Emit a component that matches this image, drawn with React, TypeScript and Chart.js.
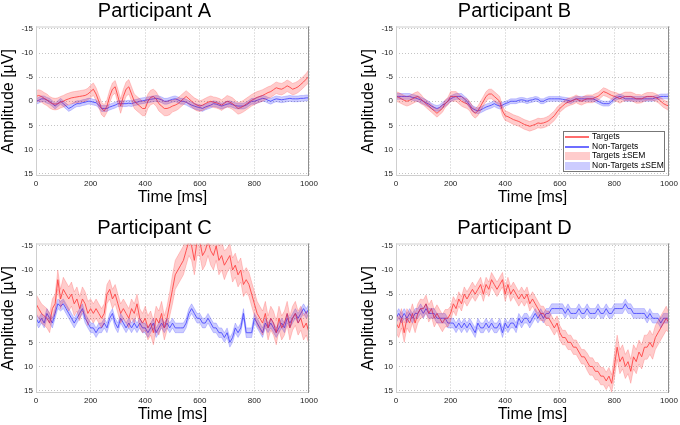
import { useEffect, useRef } from 'react';
import { Chart, registerables } from 'chart.js';

Chart.register(...registerables);

// sampling of every trace (ms per sample); sem arrays hold one value per 100 ms
const STEP_MS = 10;
const SEM_BIN_MS = 100;

const X_MIN = 0;
const X_MAX = 1000;
const X_STEP = 200;
const Y_MIN = -15.5;
const Y_MAX = 15.5;
const Y_STEP = 5;

const FONT = '"Liberation Sans", Arial, sans-serif';
const RED = 'rgb(255,85,85)';
const BLUE = 'rgb(95,95,255)';
const RED_FILL = 'rgba(255,0,0,0.2)';
const BLUE_FILL = 'rgba(0,0,255,0.2)';
const RED_EDGE = 'rgba(255,0,0,0.3)';
const BLUE_EDGE = 'rgba(0,0,255,0.3)';

// ---- Participant A ----
const A_TARGETS = [
  -1.0, -1.2, -1.0, -0.6, -0.3, 0.2, 0.5, 0.6, 0.5, 0.2,
  0.0, -0.3, -0.5, -0.7, -0.8, -0.9, -1.0, -1.1, -1.2, -1.5,
  -2.0, -2.5, -1.5, 0.0, 1.5, 2.0, 1.0, -1.0, -2.5, -3.0,
  -1.0, 1.0, -1.0, -2.5, -3.0, -1.5, 0.0, 0.5, 1.0, 1.5,
  1.5, 0.0, -0.8, -1.0, -0.5, 0.5, 1.0, 1.5, 1.5, 1.3,
  1.0, 0.8, 0.5, 0.0, -0.5, -1.0, -0.5, 0.0, 0.5, 0.8,
  1.0, 0.8, 0.5, 0.2, 0.0, 0.2, 0.3, 0.5, 0.8, 0.4,
  0.0, 0.2, 0.5, 1.0, 1.5, 1.3, 1.0, 0.6, 0.2, -0.2,
  -0.5, -0.8, -1.0, -1.2, -1.5, -1.8, -2.0, -2.4, -2.8, -2.6,
  -2.5, -2.8, -3.2, -2.9, -2.5, -2.7, -3.0, -3.5, -4.0, -4.6,
  -5.2,
];
const A_NONTARGETS = [
  0.0, -0.2, -0.5, -0.5, -0.2, 0.0, 0.5, 1.0, 0.5, 0.0,
  0.5, 1.0, 1.5, 1.2, 0.8, 0.5, 0.5, 0.3, 0.2, 0.0,
  0.0, 0.2, 0.3, 0.8, 1.5, 1.5, 1.5, 1.2, 1.0, 0.8,
  0.5, 0.5, 0.5, 0.5, 0.4, 0.5, 0.3, 0.2, 0.0, -0.1,
  -0.2, -0.3, -0.4, -0.5, -0.6, -0.5, -0.3, 0.0, 0.0, -0.2,
  -0.4, -0.5, -0.3, 0.0, 0.0, 0.2, 0.5, 0.8, 1.0, 1.2,
  1.3, 1.5, 1.2, 1.0, 0.8, 0.5, 0.6, 0.8, 1.0, 0.8,
  0.6, 0.5, 0.7, 0.9, 1.0, 1.0, 1.0, 0.8, 0.4, 0.0,
  0.0, -0.2, -0.4, -0.6, -0.5, -0.2, 0.0, -0.3, -0.5, -0.4,
  -0.3, -0.4, -0.5, -0.6, -0.5, -0.5, -0.5, -0.6, -0.6, -0.7,
  -0.7,
];
const A_SEM_T = [1.2, 1.2, 1.3, 1.5, 1.5, 1.2, 1.1, 1.2, 1.2, 1.2, 1.4];
const A_SEM_N = [0.6, 0.6, 0.6, 0.6, 0.6, 0.6, 0.6, 0.6, 0.6, 0.6, 0.6];

// ---- Participant B ----
const B_TARGETS = [
  -1.0, -0.8, -0.5, -0.2, 0.0, -0.2, -0.5, -0.8, -1.0, -0.5,
  0.0, 0.5, 1.0, 1.5, 2.0, 2.5, 2.0, 1.5, 0.5, 0.0,
  -1.0, -1.0, -1.0, -0.5, 0.0, 0.3, 0.5, 1.0, 2.0, 2.5,
  2.0, 1.0, 0.0, -1.0, -1.5, -1.5, -1.0, -0.5, 0.0, 2.0,
  3.0, 3.2, 3.5, 3.8, 4.0, 4.2, 4.5, 4.8, 5.0, 5.2,
  5.0, 4.8, 4.5, 4.6, 4.5, 4.3, 4.0, 3.5, 3.0, 2.2,
  1.5, 1.0, 0.5, 0.2, 0.0, -0.2, -0.5, -0.2, 0.0, -0.3,
  -0.5, -0.5, -0.5, -0.8, -1.0, -1.5, -2.0, -1.8, -1.5, -1.2,
  -1.0, -0.8, -0.5, -0.8, -1.0, -1.0, -1.0, -0.8, -0.5, -0.5,
  -0.5, -0.8, -1.0, -1.0, -1.0, -0.8, -0.5, 0.0, 0.5, 0.8,
  1.0,
];
const B_NONTARGETS = [
  -1.0, -1.0, -1.0, -1.0, -1.0, -1.0, -0.8, -0.7, -0.5, -0.3,
  0.0, 0.3, 0.6, 1.0, 1.3, 1.5, 1.3, 0.8, 0.5, 0.0,
  -0.5, -0.8, -1.0, -1.0, -1.0, -0.5, 0.0, 0.8, 1.5, 1.8,
  2.0, 1.8, 1.5, 1.2, 1.0, 0.8, 0.5, 0.8, 1.0, 0.8,
  0.5, 0.3, 0.0, 0.0, 0.0, -0.2, -0.3, -0.2, 0.0, -0.2,
  -0.3, -0.5, -0.4, 0.0, 0.0, -0.3, -0.5, -0.5, -0.5, -0.5,
  -0.5, -0.4, -0.3, -0.2, 0.0, -0.3, -0.5, -0.5, -0.5, -0.5,
  -0.5, -0.5, -0.5, -0.3, 0.0, 0.3, 0.5, 0.5, 0.5, 0.0,
  -0.5, -0.8, -1.0, -0.8, -0.5, -0.5, -0.5, -0.5, -0.5, -0.5,
  -0.5, -0.5, -0.5, -0.5, -0.5, -0.7, -0.8, -1.0, -1.0, -1.0,
  -1.0,
];
const B_SEM_T = [1.0, 0.8, 1.0, 1.0, 1.0, 1.0, 0.8, 0.8, 0.9, 0.8, 1.0];
const B_SEM_N = [0.6, 0.6, 0.6, 0.6, 0.5, 0.5, 0.5, 0.5, 0.5, 0.5, 0.6];

// ---- Participant C ----
const C_TARGETS = [
  -3.0, -2.0, -1.0, -0.5, 0.0, 1.0, -2.0, -3.0, -8.0, -4.0,
  -6.0, -5.0, -4.0, -5.0, -3.0, -4.0, -2.0, -4.0, -3.0, -1.0,
  -2.0, -1.0, -2.0, -1.0, 0.0, -1.0, -5.0, -6.0, -4.0, -5.0,
  -3.0, -1.0, -2.0, -1.0, 0.0, -2.0, -1.0, -3.0, 0.0, 1.0,
  0.0, 2.0, 1.0, 3.0, 0.0, 1.0, -1.0, 2.0, 0.0, -3.0,
  -6.0, -9.0, -10.0, -11.0, -12.0, -14.0, -16.0, -15.0, -12.0, -16.0,
  -16.0, -13.0, -14.0, -16.0, -14.0, -13.0, -15.0, -12.0, -13.0, -11.0,
  -12.0, -13.0, -10.0, -11.0, -9.0, -10.0, -7.0, -8.0, -7.0, -5.0,
  -3.0, -1.0, 0.0, 1.0, -1.0, 2.0, 0.0, 1.0, 3.0, 0.0,
  2.0, 1.0, -1.0, 2.0, 0.0, -1.0, 1.0, 0.0, 2.0, 1.0,
  3.0,
];
const C_NONTARGETS = [
  0.0, 1.0, 0.0, 1.0, -1.0, 0.0, 1.0, -1.0, -3.0, -2.5,
  -3.0, -2.0, -1.0, 0.0, 1.0, 0.0, -1.0, -2.0, 0.0, 1.0,
  2.0, 2.0, 3.0, 2.0, 2.0, 1.0, 2.0, 0.0, -1.0, 1.0,
  2.0, 0.0, 1.0, 2.0, 1.0, 2.0, 1.0, 2.0, 1.0, 2.0,
  2.0, 3.0, 2.0, 1.0, 3.0, 2.0, 1.0, 2.0, 1.0, 2.0,
  1.0, 2.0, 2.0, 2.0, 2.0, 1.0, -1.0, -2.0, -1.0, 0.0,
  0.0, 1.0, 1.0, 0.0, 1.0, 2.0, 2.0, 3.0, 3.0, 4.0,
  3.0, 5.0, 4.0, 2.0, 3.0, 2.0, -1.0, 3.0, 3.0, 3.0,
  0.0, 1.0, 2.0, 3.0, 1.0, 2.0, 1.0, 2.0, 3.0, 2.0,
  1.0, 2.0, 0.0, 1.0, 0.0, -1.0, 0.0, -1.0, -2.0, -1.0,
  -2.0,
];
const C_SEM_T = [2.0, 2.5, 2.0, 2.0, 2.5, 3.0, 3.0, 2.5, 2.5, 2.5, 2.5];
const C_SEM_N = [1.0, 1.0, 1.0, 1.0, 1.0, 1.0, 1.0, 1.0, 1.0, 1.0, 1.0];

// ---- Participant D ----
const D_TARGETS = [
  1.0, 2.0, 0.0, 3.0, 0.0, 1.0, -1.0, 1.0, -1.0, -2.0,
  -2.0, -3.0, -1.0, -2.0, 0.0, -1.0, 0.0, 1.0, 0.0, 0.0,
  -1.0, -3.0, -2.0, -4.0, -3.0, -5.0, -4.0, -5.0, -6.0, -5.0,
  -6.0, -7.0, -5.0, -7.0, -6.0, -8.0, -7.0, -6.0, -7.0, -8.0,
  -5.0, -7.0, -5.0, -6.0, -5.0, -4.0, -5.0, -4.0, -5.0, -3.0,
  -4.0, -3.0, -2.0, -1.0, -1.0, 0.0, 0.0, 1.0, 2.0, 1.0,
  3.0, 4.0, 4.0, 5.0, 5.0, 6.0, 6.0, 7.0, 8.0, 8.0,
  9.0, 10.0, 10.0, 11.0, 11.0, 12.0, 12.0, 13.0, 12.0, 13.5,
  10.0, 6.0, 9.0, 8.0, 10.0, 9.0, 11.0, 8.0, 9.0, 7.0,
  8.0, 6.0, 6.0, 5.0, 6.0, 4.0, 3.0, 2.0, 1.0, 0.0,
  1.0,
];
const D_NONTARGETS = [
  0.0, -1.0, 0.0, -1.0, 0.0, -1.0, 0.0, -1.0, -1.0, -2.0,
  -1.0, -2.0, -1.0, -1.0, -1.0, 0.0, 0.0, 0.0, 0.0, 1.0,
  1.0, 1.0, 2.0, 1.0, 2.0, 1.0, 2.0, 1.0, 2.0, 3.0,
  1.0, 2.0, 2.0, 1.0, 2.0, 1.0, 2.0, 2.0, 1.0, 3.0,
  1.0, 2.0, 1.0, 1.0, 2.0, 0.0, 1.0, 0.0, 0.0, 1.0,
  0.0, -1.0, 0.0, -1.0, 0.0, -1.0, -1.0, -2.0, -2.0, -2.0,
  -2.0, -2.0, -1.0, -2.0, -1.0, -1.0, -1.0, -2.0, -1.0, -1.0,
  -2.0, -1.0, -1.0, -1.0, -2.0, -1.0, -1.0, -2.0, -1.0, -1.0,
  -2.0, -2.0, -2.0, -2.0, -3.0, -2.0, -2.0, -1.0, -1.0, -1.0,
  -1.0, -1.0, 0.0, -1.0, 0.0, 0.0, 0.0, 1.0, 0.0, 0.0,
  0.0,
];
const D_SEM_T = [2.0, 1.8, 1.5, 1.5, 1.5, 1.5, 1.5, 1.8, 2.5, 2.5, 2.0];
const D_SEM_N = [1.0, 1.0, 1.0, 1.0, 1.0, 1.0, 1.0, 1.0, 1.0, 1.0, 1.0];

// legend rows
const LEGEND_ROWS = [
  { label: 'Targets', color: 'rgba(255,60,60,0.75)', patch: false },
  { label: 'Non-Targets', color: 'rgba(60,60,255,0.75)', patch: false },
  { label: 'Targets ±SEM', color: RED_FILL, patch: true },
  { label: 'Non-Targets ±SEM', color: BLUE_FILL, patch: true },
];

const toPoints = (values: number[]) => values.map((y, i) => ({ x: i * STEP_MS, y }));
const bandEdge = (values: number[], sem: number[], sign: number) =>
  values.map((y, i) => ({ x: i * STEP_MS, y: y + sign * sem[Math.floor((i * STEP_MS) / SEM_BIN_MS)] }));

const boxPlugin = {
  id: 'box',
  afterDraw(chart: Chart) {
    const { ctx, chartArea: a } = chart;
    ctx.save();
    ctx.lineWidth = 1;
    ctx.strokeStyle = '#cfcfcf';
    ctx.strokeRect(a.left + 0.5, a.top + 0.5, a.right - a.left - 1, a.bottom - a.top - 1);
    ctx.strokeStyle = '#8f8f8f';
    ctx.beginPath();
    ctx.moveTo(a.right - 0.5, a.top);
    ctx.lineTo(a.right - 0.5, a.bottom);
    ctx.stroke();
    ctx.restore();
  },
};

const legendPlugin = {
  id: 'boxLegend',
  afterDraw(chart: Chart, _args: unknown, opts: { show?: boolean }) {
    if (!opts || !opts.show) return;
    const { ctx, chartArea: a } = chart;
    const w = 102;
    const h = 41;
    const x0 = Math.round(a.right - 4 - w);
    const y0 = Math.round(a.bottom - 4 - h);
    ctx.save();
    ctx.setLineDash([]);
    ctx.fillStyle = '#fff';
    ctx.fillRect(x0, y0, w, h);
    ctx.strokeStyle = '#777';
    ctx.lineWidth = 1;
    ctx.strokeRect(x0 + 0.5, y0 + 0.5, w - 1, h - 1);
    ctx.font = `8.5px ${FONT}`;
    ctx.textBaseline = 'middle';
    ctx.textAlign = 'left';
    LEGEND_ROWS.forEach(({ label, color, patch }, row) => {
      const cy = Math.round(y0 + 6 + row * 9.5);
      ctx.fillStyle = color;
      if (patch) {
        ctx.fillRect(x0 + 2, cy - 4, 25, 8);
      } else {
        ctx.fillRect(x0 + 2, cy - 1, 24, 2);
      }
      ctx.fillStyle = '#000';
      ctx.fillText(label, x0 + 29, cy);
    });
    ctx.restore();
  },
};

interface PanelProps {
  title: string;
  targets: number[];
  nonTargets: number[];
  semT: number[];
  semN: number[];
  legend?: boolean;
  left: number;
  top: number;
}

function Panel({ title, targets, nonTargets, semT, semN, legend, left, top }: PanelProps) {
  const canvasRef = useRef<HTMLCanvasElement>(null);

  useEffect(() => {
    if (!canvasRef.current) return;
    const edge = { pointRadius: 0, borderWidth: 0.6, tension: 0 };
    const chart = new Chart(canvasRef.current, {
      type: 'line',
      data: {
        datasets: [
          { ...edge, label: 'Targets +SEM', data: bandEdge(targets, semT, 1), borderColor: RED_EDGE, backgroundColor: RED_FILL, fill: '+1' },
          { ...edge, label: 'Targets -SEM', data: bandEdge(targets, semT, -1), borderColor: RED_EDGE, fill: false },
          { ...edge, label: 'Non-Targets +SEM', data: bandEdge(nonTargets, semN, 1), borderColor: BLUE_EDGE, backgroundColor: BLUE_FILL, fill: '+1' },
          { ...edge, label: 'Non-Targets -SEM', data: bandEdge(nonTargets, semN, -1), borderColor: BLUE_EDGE, fill: false },
          { label: 'Targets', data: toPoints(targets), borderColor: RED, borderWidth: 0.9, pointRadius: 0, fill: false, tension: 0 },
          { label: 'Non-Targets', data: toPoints(nonTargets), borderColor: BLUE, borderWidth: 0.9, pointRadius: 0, fill: false, tension: 0 },
        ],
      },
      options: {
        responsive: false,
        animation: false,
        events: [],
        layout: { padding: { left: 0, right: 36, top: 0, bottom: 0 } },
        plugins: {
          legend: { display: false },
          tooltip: { enabled: false },
          title: {
            display: true,
            text: title,
            color: '#000',
            font: { family: FONT, size: 20, weight: 'normal', lineHeight: 1 },
            padding: { top: 1, bottom: 5.5 },
          },
          boxLegend: { show: !!legend },
        } as any,
        scales: {
          x: {
            type: 'linear',
            min: X_MIN,
            max: X_MAX,
            afterFit: (s: any) => { s.height = 36; },
            ticks: {
              stepSize: X_STEP,
              color: '#222',
              font: { family: FONT, size: 8 },
              padding: 3,
              maxRotation: 0,
              callback: (v: any) => String(v),
            },
            grid: { color: '#c4c4c4', drawTicks: false },
            border: { display: false, dash: [1, 2] },
            title: {
              display: true,
              text: 'Time [ms]',
              color: '#000',
              font: { family: FONT, size: 16, lineHeight: 1.1 },
              padding: { top: 0, bottom: 6 },
            },
          },
          y: {
            type: 'linear',
            reverse: true,
            min: Y_MIN,
            max: Y_MAX,
            afterFit: (s: any) => { s.width = 36; },
            ticks: {
              stepSize: Y_STEP,
              includeBounds: false,
              color: '#222',
              font: { family: FONT, size: 8 },
              padding: 3,
              callback: (v: any) => String(v),
            },
            grid: { color: '#c4c4c4', drawTicks: false },
            border: { display: false, dash: [1, 2] },
            title: {
              display: true,
              text: 'Amplitude [µV]',
              color: '#000',
              font: { family: FONT, size: 16, lineHeight: 1.1 },
              padding: 0,
            },
          },
        },
      },
      plugins: [boxPlugin, legendPlugin],
    });
    return () => { chart.destroy(); };
  }, [title, targets, nonTargets, semT, semN, legend]);

  return (
    <canvas
      ref={canvasRef}
      width={345}
      height={212}
      style={{ position: 'absolute', left, top, width: 345, height: 212 }}
    />
  );
}

export default function App() {
  return (
    <div style={{ position: 'fixed', left: 0, top: 0, width: 680, height: 425, overflow: 'hidden', background: '#fff' }}>
      <Panel title="Participant A" targets={A_TARGETS} nonTargets={A_NONTARGETS} semT={A_SEM_T} semN={A_SEM_N} left={0} top={0} />
      <Panel title="Participant B" targets={B_TARGETS} nonTargets={B_NONTARGETS} semT={B_SEM_T} semN={B_SEM_N} legend left={360} top={0} />
      <Panel title="Participant C" targets={C_TARGETS} nonTargets={C_NONTARGETS} semT={C_SEM_T} semN={C_SEM_N} left={0} top={217} />
      <Panel title="Participant D" targets={D_TARGETS} nonTargets={D_NONTARGETS} semT={D_SEM_T} semN={D_SEM_N} left={360} top={217} />
    </div>
  );
}
